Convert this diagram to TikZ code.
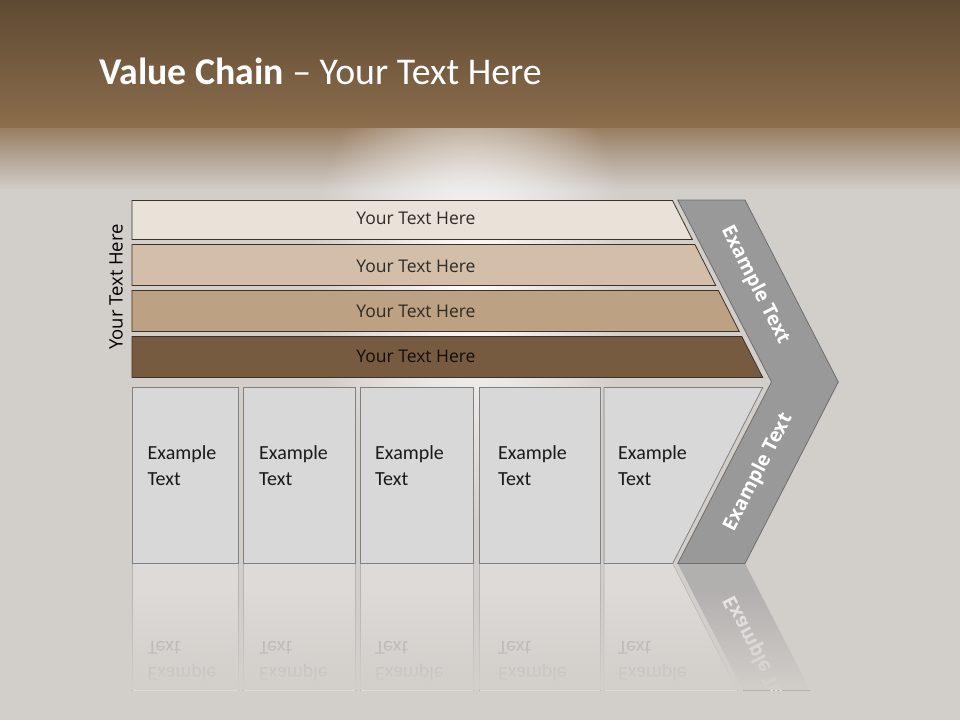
\documentclass[tikz,border=0pt]{standalone}
\usepackage{fontspec}
\setmainfont{Open Sans}
\newfontfamily\calibri{Carlito}
\usepackage{color}
\usetikzlibrary{positioning,fadings}

\definecolor{headtop}{HTML}{5E4A33}
\definecolor{headbot}{HTML}{8C6D4C}
\definecolor{floorgrey}{HTML}{D2CECA}
\definecolor{rowA}{HTML}{E9E2D8}
\definecolor{rowB}{HTML}{D3BFA9}
\definecolor{rowC}{HTML}{BDA183}
\definecolor{rowD}{HTML}{765B40}
\definecolor{rowline}{HTML}{3E3228}
\definecolor{boxfill}{HTML}{D8D8D8}
\definecolor{boxline}{HTML}{808080}
\definecolor{chevfill}{HTML}{999999}
\definecolor{chevline}{HTML}{6E6E6E}
\definecolor{darktext}{HTML}{2E2A26}

\tikzfading[name=floorfade, top color=transparent!100, bottom color=transparent!0]
\tikzfading[name=glowfade, inner color=transparent!0, outer color=transparent!100]

\begin{document}
\begin{tikzpicture}[
  x=1pt, y=-1pt,
  rowbox/.style={draw=rowline, line width=0.8pt},
  rowtext/.style={text=darktext, inner sep=0pt, font=\fontsize{17.5}{21}\selectfont},
  exbox/.style={draw=boxline, fill=boxfill, line width=0.8pt},
  extext/.style={anchor=north west, align=left, inner sep=0pt, text=black!90, font=\calibri\fontsize{20}{26}\selectfont},
  armtext/.style={text=white, inner sep=0pt, font=\bfseries\fontsize{19.5}{23}\selectfont},
  reflbox/.style={draw=boxline!60, fill=white, fill opacity=0.25, line width=0.6pt},
  refltext/.style={extext, text=black!35, transform shape}
]
\useasboundingbox (0,0) rectangle (960,720);

% background
\fill[floorgrey] (0,0) rectangle (960,720);
\shade[top color=headbot!85!floorgrey, bottom color=floorgrey] (0,126) rectangle (960,190);
\fill[white, path fading=glowfade] (470,280) ellipse [x radius=160, y radius=250];
\shade[top color=headtop, bottom color=headbot] (0,0) rectangle (960,127);

\node[anchor=base west, inner sep=0pt, text=white, font=\calibri\fontsize{37.8}{44}\selectfont]
  (title) at (99,84) {\textbf{Value Chain} – Your Text Here};

% rows
\draw[rowbox, fill=rowA] (132,200.5) -- (672.5,200.5) -- (692.3,239.5) -- (132,239.5) -- cycle;
\draw[rowbox, fill=rowB] (132,244.5) -- (694.9,244.5) -- (715.8,285.5) -- (132,285.5) -- cycle;
\draw[rowbox, fill=rowC] (132,290.5) -- (718.4,290.5) -- (739.3,331.5) -- (132,331.5) -- cycle;
\draw[rowbox, fill=rowD] (132,336.5) -- (741.8,336.5) -- (762.7,377.5) -- (132,377.5) -- cycle;
\node[rowtext] (rowA) at (416,218) {Your Text Here};
\node[rowtext] (rowB) at (416,266) {Your Text Here};
\node[rowtext] (rowC) at (416,311) {Your Text Here};
\node[rowtext, text=black!85!rowD] (rowD) at (416,356) {Your Text Here};

\node[rowtext, text=black, rotate=90, font=\fontsize{18.5}{22}\selectfont] (side) at (116,287) {Your Text Here};

% boxes
\draw[exbox] (132.5,387.5) rectangle (238.5,563.5);
\draw[exbox] (243.5,387.5) rectangle (355.5,563.5);
\draw[exbox] (360.5,387.5) rectangle (473.5,563.5);
\draw[exbox] (479,387.5) rectangle (600,563.5);
\draw[exbox] (604,387.5) -- (762.7,387.5) -- (672.7,563.5) -- (604,563.5) -- cycle;
\node[extext] (boxA) at (147.5,445) {Example\\Text};
\node[extext] (boxB) at (259,445) {Example\\Text};
\node[extext] (boxC) at (375,445) {Example\\Text};
\node[extext] (boxD) at (498,445) {Example\\Text};
\node[extext] (boxE) at (618,445) {Example\\Text};

% chevron
\draw[fill=chevfill, draw=chevline, line width=0.8pt]
  (677.7,200) -- (745,200) -- (838.3,382) -- (745,563.5) -- (677.7,563.5) -- (771.5,382) -- cycle;
\node[armtext, rotate=-63] (armA) at (755,285) {Example Text};
\node[armtext, rotate=63] (armB) at (758.5,472.5) {Example Text};

% reflection
\begin{scope}
  \clip (0,564.5) rectangle (960,690);
  \begin{scope}[shift={(0,1127)}, yscale=-1]
    \draw[reflbox] (132.5,387.5) rectangle (238.5,563.5);
    \draw[reflbox] (243.5,387.5) rectangle (355.5,563.5);
    \draw[reflbox] (360.5,387.5) rectangle (473.5,563.5);
    \draw[reflbox] (479,387.5) rectangle (600,563.5);
    \draw[reflbox] (604,387.5) -- (762.7,387.5) -- (672.7,563.5) -- (604,563.5) -- cycle;
    \node[refltext] (reflA) at (147.5,445) {Example\\Text};
    \node[refltext] (reflB) at (259,445) {Example\\Text};
    \node[refltext] (reflC) at (375,445) {Example\\Text};
    \node[refltext] (reflD) at (498,445) {Example\\Text};
    \node[refltext] (reflE) at (618,445) {Example\\Text};
    \fill[chevfill, opacity=0.55] (677.7,563.5) -- (745,563.5) -- (838.3,382) -- (771.5,382) -- cycle;
    \node[armtext, rotate=63, transform shape, opacity=0.7] (reflArm) at (758.5,472.5) {Example Text};
  \end{scope}
\end{scope}
\fill[floorgrey, path fading=floorfade] (0,590) rectangle (960,690);
\end{tikzpicture}
\end{document}
